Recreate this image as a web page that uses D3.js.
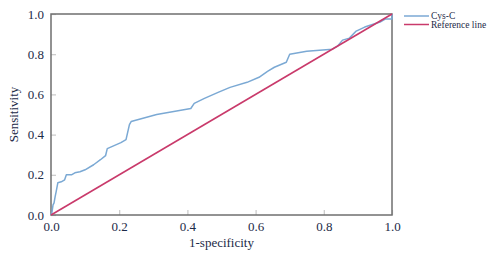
<!DOCTYPE html>
<html><head><meta charset="utf-8">
<script src="https://cdn.jsdelivr.net/npm/d3@7"></script>
<style>body{margin:0;background:#fff}svg{display:block}</style>
</head><body>
<script>
const fpr = [0,0.003,0.006,0.009,0.012,0.015,0.02,0.03,0.04,0.045,0.06,0.07,0.085,0.10,0.125,0.145,0.16,0.165,0.185,0.205,0.22,0.23,0.235,0.31,0.41,0.42,0.45,0.49,0.525,0.575,0.61,0.635,0.655,0.69,0.70,0.75,0.825,0.84,0.855,0.875,0.895,0.92,0.965,0.98,1.0,1.0];
const tpr = [0,0.015,0.05,0.06,0.09,0.115,0.16,0.165,0.175,0.20,0.20,0.21,0.215,0.225,0.25,0.275,0.295,0.33,0.345,0.36,0.375,0.45,0.465,0.50,0.53,0.555,0.58,0.61,0.635,0.66,0.685,0.715,0.735,0.76,0.80,0.815,0.825,0.84,0.87,0.88,0.915,0.935,0.96,0.975,0.975,1.0];
const refLine = [[0,0],[1,1]];
const ticks = [0,0.2,0.4,0.6,0.8,1.0];
const seriesNames = ["Cys-C","Reference line"];
const colors = ["#7ba9d4","#c93a6b"];

const W=491,H=257, m={l:51,r:99,t:14,b:42};
const svg=d3.select("body").append("svg").attr("width",W).attr("height",H);
const x=d3.scaleLinear().domain([0,1]).range([m.l,W-m.r]);
const y=d3.scaleLinear().domain([0,1]).range([H-m.b,m.t]);
const txt="#1c2a47", font="Liberation Serif, Times New Roman, serif";

const gx=svg.append("g").attr("transform",`translate(0,${H-m.b})`)
 .call(d3.axisBottom(x).tickValues(ticks).tickFormat(d3.format(".1f")).tickSizeInner(-5).tickSizeOuter(0).tickPadding(7));
const gy=svg.append("g").attr("transform",`translate(${m.l},0)`)
 .call(d3.axisLeft(y).tickValues(ticks).tickFormat(d3.format(".1f")).tickSizeInner(-5).tickSizeOuter(0).tickPadding(7));
[gx,gy].forEach(g=>{g.select(".domain").remove();
 g.selectAll(".tick line").attr("stroke","#c8c8c8").attr("stroke-width",1.2);
 g.selectAll(".tick text").attr("fill",txt).style("font-family",font).style("font-size","13px");});

svg.append("rect").attr("x",x(0)).attr("y",y(1)).attr("width",x(1)-x(0)).attr("height",y(0)-y(1))
 .attr("fill","none").attr("stroke","#6f6f6f").attr("stroke-width",1.5);

const line=d3.line().x(d=>x(d[0])).y(d=>y(d[1]));
svg.append("path").datum(fpr.map((f,i)=>[f,tpr[i]])).attr("d",line).attr("fill","none").attr("stroke",colors[0]).attr("stroke-width",1.5).attr("stroke-linejoin","round");
svg.append("path").datum(refLine).attr("d",line).attr("fill","none").attr("stroke",colors[1]).attr("stroke-width",1.6);

svg.append("text").attr("x",(x(0)+x(1))/2).attr("y",247).attr("text-anchor","middle").attr("fill",txt)
 .style("font-family",font).style("font-size","13px").text("1-specificity");
svg.append("text").attr("transform",`translate(18,${(y(0)+y(1))/2}) rotate(-90)`).attr("text-anchor","middle").attr("fill",txt)
 .style("font-family",font).style("font-size","13px").text("Sensitivity");

const lg=svg.append("g");
seriesNames.forEach((n,i)=>{
 const yy=16+i*8.5;
 lg.append("line").attr("x1",404).attr("x2",429).attr("y1",yy).attr("y2",yy).attr("stroke",colors[i]).attr("stroke-width",1.5);
 lg.append("text").attr("x",431).attr("y",yy+3).attr("fill",txt).style("font-family",font).style("font-size","9.5px").text(n);
});
</script>
</body></html>
